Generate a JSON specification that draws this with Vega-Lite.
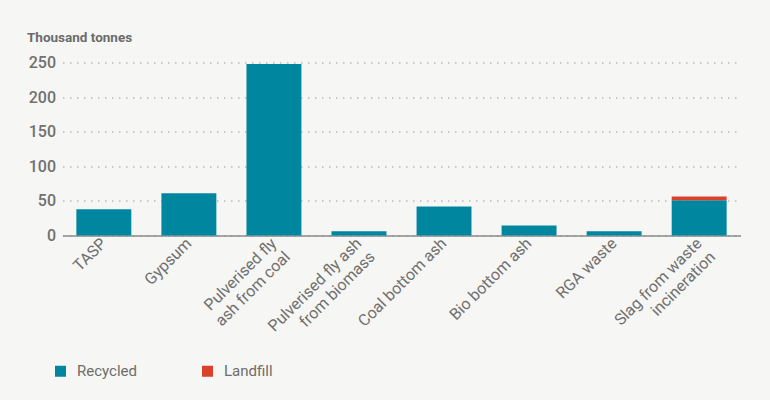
{
  "$schema": "https://vega.github.io/schema/vega-lite/v6.json",
  "width": 678,
  "height": 173,
  "autosize": {"type": "none"},
  "padding": {"left": 62.5, "top": 62.5, "right": 29, "bottom": 164},
  "background": "#f6f6f4",
  "config": {
    "font": "Roboto",
    "view": {"stroke": null},
    "axis": {"labelFont": "Roboto", "titleFont": "Roboto"}
  },
  "data": {
    "values": [
      {"material": "TASP", "type": "Recycled", "value": 38},
      {"material": "Gypsum", "type": "Recycled", "value": 61},
      {"material": "Pulverised fly|ash from coal", "type": "Recycled", "value": 248},
      {"material": "Pulverised fly ash|from biomass", "type": "Recycled", "value": 6},
      {"material": "Coal bottom ash", "type": "Recycled", "value": 42},
      {"material": "Bio bottom ash", "type": "Recycled", "value": 14.5},
      {"material": "RGA waste", "type": "Recycled", "value": 6},
      {"material": "Slag from waste|incineration", "type": "Recycled", "value": 51},
      {"material": "Slag from waste|incineration", "type": "Landfill", "value": 5.5}
    ]
  },
  "mark": {"type": "bar"},
  "encoding": {
    "x": {
      "field": "material",
      "type": "nominal",
      "sort": null,
      "scale": {"paddingInner": 0.354, "paddingOuter": 0.163},
      "axis": {
        "title": null,
        "labelAngle": -45,
        "labelAlign": "right",
        "labelBaseline": "middle",
        "labelExpr": "split(datum.label, '|')",
        "labelFontSize": 16,
        "labelColor": "#707070",
        "labelPadding": 5,
        "labelLineHeight": 19,
        "ticks": false,
        "domainColor": "#8a8a8a",
        "domainWidth": 1.5,
        "grid": false
      }
    },
    "y": {
      "field": "value",
      "type": "quantitative",
      "stack": "zero",
      "scale": {"domain": [0, 250]},
      "axis": {
        "title": "Thousand tonnes",
        "titleAngle": 0,
        "titleAlign": "left",
        "titleBaseline": "alphabetic",
        "titleX": -36,
        "titleY": -21.5,
        "titleFontSize": 13.5,
        "titleFontWeight": "bold",
        "titleColor": "#6b6b6b",
        "values": [0, 50, 100, 150, 200, 250],
        "labelFontSize": 16,
        "labelFontWeight": 500,
        "labelColor": "#707070",
        "labelPadding": 7,
        "ticks": false,
        "domain": false,
        "grid": true,
        "gridColor": "#9a9a9a",
        "gridDash": [1.5, 5.5],
        "gridWidth": 1
      }
    },
    "color": {
      "field": "type",
      "type": "nominal",
      "sort": ["Recycled", "Landfill"],
      "scale": {"domain": ["Recycled", "Landfill"], "range": ["#00879f", "#d9412b"]},
      "legend": {
        "title": null,
        "orient": "none",
        "direction": "horizontal",
        "legendX": -9.5,
        "legendY": 301,
        "symbolType": "square",
        "symbolSize": 121,
        "symbolStrokeWidth": 0,
        "labelFontSize": 15,
        "labelColor": "#6d6d6d",
        "labelOffset": 9,
        "columnPadding": 63
      }
    }
  }
}
